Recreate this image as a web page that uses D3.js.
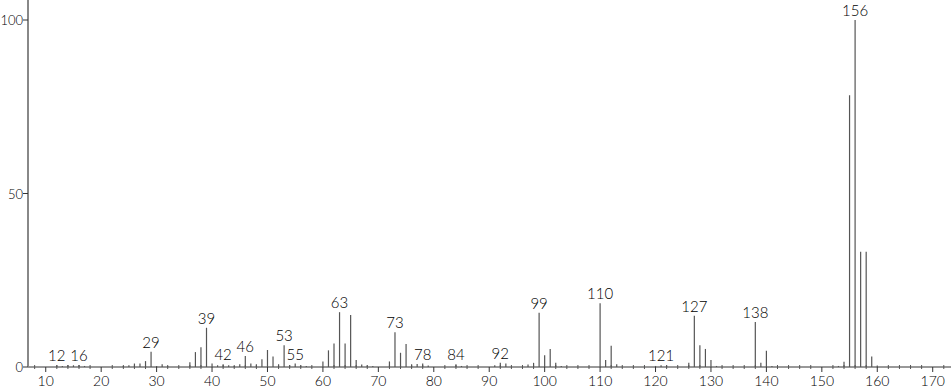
<!DOCTYPE html>
<html>
<head>
<meta charset="utf-8">
<script src="https://cdn.jsdelivr.net/npm/d3@7"></script>
<style>
  body { margin: 0; background: #fff; }
  text { font-family: Lato, 'DejaVu Sans', sans-serif; font-weight: 300; fill: #000; }
</style>
</head>
<body>
<svg></svg>
<script>
const dims = { height: 389, width: 951 }
const margin = { left: 28, bottom: 22 }

// m/z and relative intensity
const mz = [12, 13, 14, 15, 16, 17, 24, 25, 26, 27, 28, 29, 30, 31, 32, 36, 37, 38, 39, 40,
  41, 42, 43, 44, 45, 46, 47, 48, 49, 50, 51, 52, 53, 54, 55, 56, 57, 60, 61, 62,
  63, 64, 65, 66, 67, 68, 69, 72, 73, 74, 75, 76, 77, 78, 79, 84, 85, 91, 92, 93,
  97, 98, 99, 100, 101, 102, 103, 110, 111, 112, 113, 120, 121, 122, 126, 127, 128, 129, 130, 131,
  138, 139, 140, 141, 153, 154, 155, 156, 157, 158, 159, 160]
const intensity = [0.5, 0.3, 0.6, 0.5, 0.6, 0.3, 0.3, 0.5, 1.0, 1.0, 1.7, 4.4, 0.3, 0.8, 0.3, 1.4, 4.3, 5.7, 11.3, 1.0,
  0.5, 0.8, 0.5, 0.3, 0.8, 3.2, 1.0, 0.8, 2.2, 4.9, 3.0, 0.8, 6.3, 0.5, 1.0, 0.4, 0.3, 1.6, 4.8, 6.8,
  15.8, 6.8, 15.0, 2.0, 0.7, 0.4, 0.3, 1.6, 10.0, 4.1, 6.6, 0.8, 0.9, 1.0, 0.4, 0.8, 0.3, 0.5, 1.2, 1.0,
  0.7, 1.2, 15.6, 3.4, 5.2, 1.2, 0.3, 18.4, 2.0, 6.1, 0.8, 0.3, 0.5, 0.4, 1.2, 14.8, 6.3, 5.2, 2.0, 0.3,
  13.0, 1.2, 4.7, 0.3, 0.3, 1.5, 78.3, 100, 33.2, 33.2, 3.0, 0.4]
const labelled = [12, 16, 29, 39, 42, 46, 53, 55, 63, 73, 78, 84, 92, 99, 110, 121, 127, 138, 156]
const xTicks = [10, 20, 30, 40, 50, 60, 70, 80, 90, 100, 110, 120, 130, 140, 150, 160, 170]
const yTicks = [0, 50, 100]

const peaks = mz.map((m, i) => ({ m, v: intensity[i] }))

const svg = d3.select('svg')
  .attr('height', dims.height)
  .attr('width', dims.width)

const baseY = dims.height - margin.bottom
const x = d3.scaleLinear().domain([6.8, 173.3]).range([margin.left, dims.width])
const y = d3.scaleLinear().domain([0, 100]).range([baseY, 20])

// x axis: major every 10, minor every 2
const xAxisG = svg.append('g').attr('transform', `translate(0,${baseY})`)
xAxisG.append('line')
  .attr('x1', margin.left).attr('x2', dims.width)
  .attr('stroke', '#333')
xAxisG.selectAll('.minor').data(d3.range(8, 174, 2).filter(d => d % 10))
  .enter().append('line')
    .attr('class', 'minor')
    .attr('x1', d => x(d)).attr('x2', d => x(d))
    .attr('y1', -2).attr('y2', 2)
    .attr('stroke', '#555')
xAxisG.selectAll('.major').data(xTicks)
  .enter().append('line')
    .attr('class', 'major')
    .attr('x1', d => x(d)).attr('x2', d => x(d))
    .attr('y1', 0).attr('y2', 5)
    .attr('stroke', '#333')
xAxisG.selectAll('text').data(xTicks)
  .enter().append('text')
    .attr('x', d => x(d))
    .attr('y', 19)
    .attr('text-anchor', 'middle')
    .attr('font-size', 14)
    .text(d => d)

// y axis
const yAxisG = svg.append('g')
yAxisG.append('line')
  .attr('x1', margin.left).attr('x2', margin.left)
  .attr('y1', 0).attr('y2', baseY)
  .attr('stroke', '#888').attr('stroke-width', 2)
yAxisG.selectAll('line.tick').data(yTicks)
  .enter().append('line')
    .attr('class', 'tick')
    .attr('x1', margin.left - 5).attr('x2', margin.left)
    .attr('y1', d => y(d)).attr('y2', d => y(d))
    .attr('stroke', '#333')
yAxisG.selectAll('text').data(yTicks)
  .enter().append('text')
    .attr('x', margin.left - 5)
    .attr('y', d => y(d) + 5)
    .attr('text-anchor', 'end')
    .attr('font-size', 13)
    .text(d => d)

// peaks
svg.append('g').selectAll('line').data(peaks)
  .enter().append('line')
    .attr('x1', d => x(d.m)).attr('x2', d => x(d.m))
    .attr('y1', baseY).attr('y2', d => y(d.v))
    .attr('stroke', '#555')
    .attr('stroke-width', 1.2)

svg.append('g').selectAll('text').data(peaks.filter(d => labelled.includes(d.m)))
  .enter().append('text')
    .attr('x', d => x(d.m))
    .attr('y', d => y(d.v) - 4)
    .attr('text-anchor', 'middle')
    .attr('font-size', 15)
    .text(d => d.m)
</script>
</body>
</html>
